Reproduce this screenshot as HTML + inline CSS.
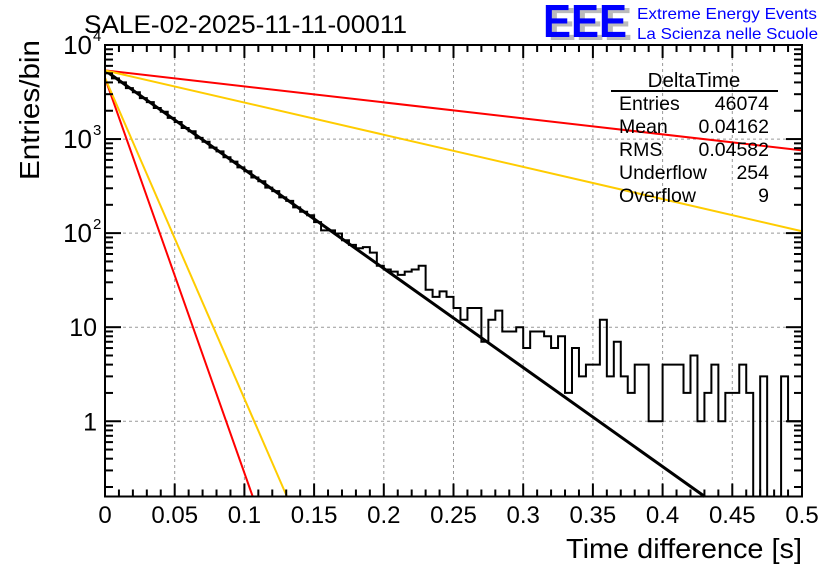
<!DOCTYPE html>
<html><head><meta charset="utf-8"><style>
html,body{margin:0;padding:0;background:#fff;}
svg{display:block;font-family:"Liberation Sans",sans-serif;}
</style></head><body>
<svg id="chart" width="836" height="572" viewBox="0 0 836 572" xmlns="http://www.w3.org/2000/svg">
<rect width="836" height="572" fill="#fff"/>
<text x="84" y="33" font-size="25" textLength="323" lengthAdjust="spacingAndGlyphs">SALE-02-2025-11-11-00011</text>
<g>
<text x="548" y="40" font-size="46" fill="#bbb" font-weight="bold" textLength="84" lengthAdjust="spacingAndGlyphs">EEE</text>
<text x="543" y="37" font-size="46" fill="#0000ff" font-weight="bold" textLength="84" lengthAdjust="spacingAndGlyphs">EEE</text>
<text x="637" y="19" font-size="16" fill="#0000ff" textLength="180" lengthAdjust="spacingAndGlyphs">Extreme Energy Events</text>
<text x="637" y="39" font-size="16" fill="#0000ff" textLength="181" lengthAdjust="spacingAndGlyphs">La Scienza nelle Scuole</text>
</g>
<g id="grid"></g>
<g id="series"></g>
<g id="axes"></g>
<g font-size="19.5">
<text x="694" y="87" text-anchor="middle" font-size="20.5">DeltaTime</text>
<line x1="611" y1="91" x2="778" y2="91" stroke="#000" stroke-width="2"/>
<text x="619" y="110">Entries</text><text x="769" y="110" text-anchor="end">46074</text>
<text x="619" y="133">Mean</text><text x="769" y="133" text-anchor="end">0.04162</text>
<text x="619" y="156">RMS</text><text x="769" y="156" text-anchor="end">0.04582</text>
<text x="619" y="179">Underflow</text><text x="769" y="179" text-anchor="end">254</text>
<text x="619" y="202">Overflow</text><text x="769" y="202" text-anchor="end">9</text>
</g>
<text x="802" y="558" text-anchor="end" font-size="28" textLength="236" lengthAdjust="spacingAndGlyphs">Time difference [s]</text>
<text transform="translate(39,40) rotate(-90)" text-anchor="end" font-size="28" x="0" y="0" textLength="140" lengthAdjust="spacingAndGlyphs">Entries/bin</text>
</svg>
<script>
const binCounts=[5100,4420,4000,3480,3150,2720,2470,2140,1950,1680,1520,1310,1210,1030,935,810,740,640,575,500,455,390,356,305,280,240,220,188,169,155,131,107,107,99,84,75,69,71,62,45,41,39,36,39,41,45,25,21,24,21,16,12,16,16,7,12,15,9,9,10,6,9,9,8,6,8,2,6,3,4,4,12,3,7,3,2,4,4,1,1,4,4,4,2,5,1,2,4,1,2,2,4,2,0,3,0,0,3,1,1];
const fitNames=['fit-black','fit-red-slow','fit-orange-slow','fit-red-fast','fit-orange-fast'];
const fitLog10Amp=[3.73,3.73,3.73,3.65,3.65];
const fitLog10Slope=[10.53,1.7,3.42,42,34.1];
const fitColors=['#000','#ff0000','#ffcc00','#ff0000','#ffcc00'];
const xTicks=[0,0.05,0.1,0.15,0.2,0.25,0.3,0.35,0.4,0.45,0.5];
const xTickLabels=['0','0.05','0.1','0.15','0.2','0.25','0.3','0.35','0.4','0.45','0.5'];
const yDecades=[0,1,2,3,4];
const yDecadeLabels=['1','10','10^2','10^3','10^4'];

const NS='http://www.w3.org/2000/svg';
const L=105,R=802,T=45,B=496.5,XMIN=0,XMAX=0.5,LYMIN=-0.8,LYMAX=4.0;
const sx=v=>L+(v-XMIN)/(XMAX-XMIN)*(R-L);
const sy=v=>{const lv=v>0?Math.log10(v):LYMIN-1;return T+(LYMAX-lv)/(LYMAX-LYMIN)*(B-T);};
const syl=lv=>T+(LYMAX-lv)/(LYMAX-LYMIN)*(B-T);
function mk(tag,attrs,parent){const e=document.createElementNS(NS,tag);for(const k in attrs)e.setAttribute(k,attrs[k]);parent.appendChild(e);return e;}
const grid=document.getElementById('grid'),series=document.getElementById('series'),axes=document.getElementById('axes');

xTicks.forEach((t,i)=>{if(i>0&&i<xTicks.length-1){const g=mk('line',{x1:sx(t),x2:sx(t),y1:T,y2:B,stroke:'#999','stroke-dasharray':'3,3','stroke-width':1},grid);

}});
yDecades.forEach((d,i)=>{if(d>LYMIN&&d<LYMAX){const g=mk('line',{x1:L,x2:R,y1:syl(d),y2:syl(d),stroke:'#999','stroke-dasharray':'3,3','stroke-width':1},grid);

}});

const bw=(XMAX-XMIN)/binCounts.length;
let d='';
binCounts.forEach((c,i)=>{const x0=sx(XMIN+i*bw),x1=sx(XMIN+(i+1)*bw);const y=Math.min(B,Math.max(T,sy(c)));
if(i===0)d+=`M${x0},${y}`;else d+=`L${x0},${y}`;d+=`L${x1},${y}`;});
d+=`L${R},${B}`;
const hist=mk('path',{d:d,fill:'none',stroke:'#000','stroke-width':2},series);



fitNames.forEach((n,i)=>{const a=fitLog10Amp[i],s=fitLog10Slope[i];
let xEnd=Math.min(XMAX,(a-LYMIN)/s);
const p=mk('line',{x1:sx(0),y1:syl(a),x2:sx(xEnd),y2:syl(a-s*xEnd),stroke:fitColors[i],'stroke-width':i===0?3:2},series);

});

const fr=mk('rect',{x:L,y:T,width:R-L,height:B-T,fill:'none',stroke:'#000','stroke-width':2},axes);


for(let k=0;k<=50;k++){const v=k*0.01;const major=k%5===0;const len=major?13:7;
mk('line',{x1:sx(v),x2:sx(v),y1:B,y2:B-len,stroke:'#000','stroke-width':2},axes);
mk('line',{x1:sx(v),x2:sx(v),y1:T,y2:T+len,stroke:'#000','stroke-width':2},axes);}
xTicks.forEach((t,i)=>{const tl=mk('text',{x:sx(t),y:523,'text-anchor':'middle','font-size':24},axes);tl.textContent=xTickLabels[i];

});
for(let dd=-1;dd<=4;dd++){for(let m=1;m<=9;m++){const lv=dd+Math.log10(m);if(lv<LYMIN||lv>LYMAX)continue;const len=m===1?16:8;
mk('line',{x1:L,x2:L+len,y1:syl(lv),y2:syl(lv),stroke:'#000','stroke-width':2},axes);
mk('line',{x1:R,x2:R-len,y1:syl(lv),y2:syl(lv),stroke:'#000','stroke-width':2},axes);}}
yDecades.forEach((dv,i)=>{const lab=yDecadeLabels[i];const y=syl(dv)+9;let t;
if(lab.indexOf('^')>0){const [b,e]=lab.split('^');t=mk('text',{x:92,y:y,'text-anchor':'end','font-size':26},axes);t.textContent=b;
const ex=mk('text',{x:93,y:y-13,'font-size':15},axes);ex.textContent=e;

}
else{t=mk('text',{x:97,y:y,'text-anchor':'end','font-size':25},axes);t.textContent=lab;}

});
</script>
</body></html>
